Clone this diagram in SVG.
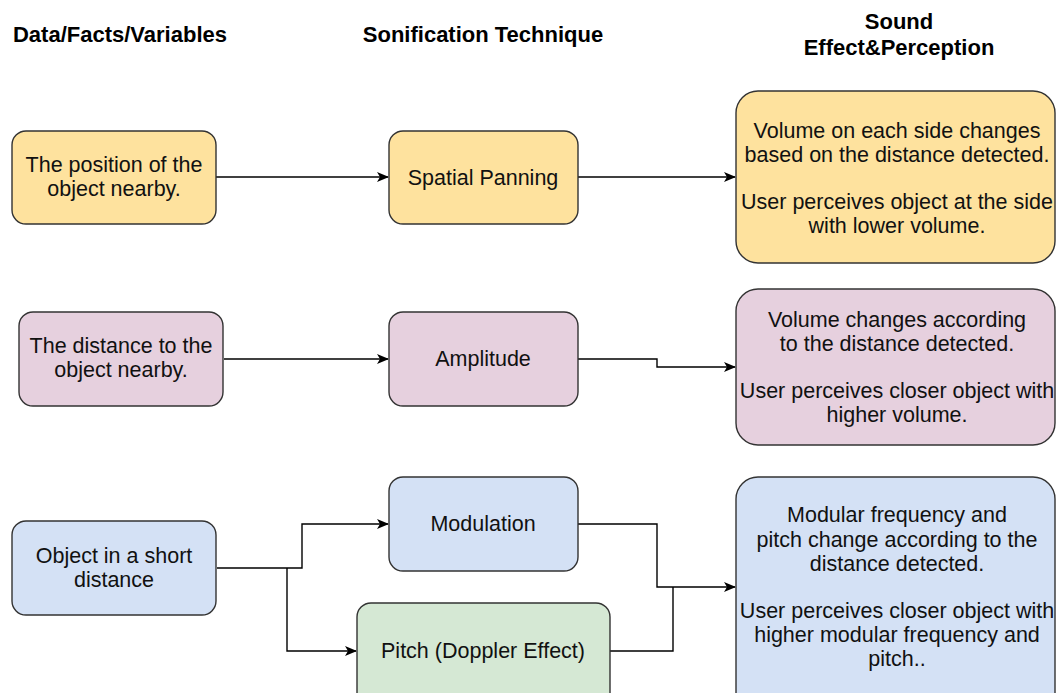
<svg xmlns="http://www.w3.org/2000/svg" width="1057" height="693" viewBox="0 0 1057 693">
  <defs>
    <marker id="arrow" viewBox="0 0 12 10" refX="11" refY="5" markerWidth="12" markerHeight="10" markerUnits="userSpaceOnUse" orient="auto">
      <path d="M0,0 L12,5 L0,10 L3,5 Z" fill="#000"/>
    </marker>
  </defs>
  <style>
    .box { stroke: #333; stroke-width: 1.4; }
    .yellow { fill: #FEE29E; }
    .pink { fill: #E6D0DE; }
    .blue { fill: #D4E1F5; }
    .green { fill: #D5E8D4; }
    .head { font-family: "Liberation Sans", Arial, sans-serif; font-weight: bold; font-size: 22px; fill: #000; text-anchor: middle; }
    .lbl { font-family: "Liberation Sans", Arial, sans-serif; font-size: 21.5px; fill: #111; text-anchor: middle; }
    .edge { fill: none; stroke: #000; stroke-width: 1.4; marker-end: url(#arrow); }
    .line { fill: none; stroke: #000; stroke-width: 1.4; }
  </style>
  <rect width="1057" height="693" fill="#fff"/>

  <!-- column headings -->
  <g id="headings">
    <text class="head" x="120" y="42">Data/Facts/Variables</text>
    <text class="head" x="483" y="42">Sonification Technique</text>
    <text class="head" x="899" y="29">Sound</text>
    <text class="head" x="899" y="55">Effect&amp;Perception</text>
  </g>

  <!-- connectors -->
  <g id="connectors">
    <path class="edge" d="M216,177 H388"/>
    <path class="edge" d="M578,177 H735"/>
    <path class="edge" d="M224,359 H388"/>
    <path class="edge" d="M578,359 H657 V367 H735"/>
    <path class="edge" d="M217,568 H302 V524 H388"/>
    <path class="edge" d="M287,568 V651 H356"/>
    <path class="edge" d="M578,524 H657 V587 H735"/>
    <path class="line" d="M610,651 H673 V587"/>
  </g>

  <!-- row 1: position -->
  <g id="node-position">
    <rect class="box yellow" x="12" y="131" width="204" height="93" rx="14"/>
    <text class="lbl" x="114" y="172">The position of the</text>
    <text class="lbl" x="114" y="196">object nearby.</text>
  </g>
  <g id="node-panning">
    <rect class="box yellow" x="389" y="131" width="189" height="93" rx="14"/>
    <text class="lbl" x="483" y="185">Spatial Panning</text>
  </g>
  <g id="node-panning-effect">
    <rect class="box yellow" x="736" y="91" width="319" height="172" rx="22"/>
    <text class="lbl" x="897" y="138">Volume on each side changes</text>
    <text class="lbl" x="897" y="162">based on the distance detected.</text>
    <text class="lbl" x="897" y="209">User perceives object at the side</text>
    <text class="lbl" x="897" y="233">with lower volume.</text>
  </g>

  <!-- row 2: distance -->
  <g id="node-distance">
    <rect class="box pink" x="19" y="312" width="204" height="94" rx="14"/>
    <text class="lbl" x="121" y="353">The distance to the</text>
    <text class="lbl" x="121" y="377">object nearby.</text>
  </g>
  <g id="node-amplitude">
    <rect class="box pink" x="389" y="312" width="189" height="94" rx="14"/>
    <text class="lbl" x="483" y="366">Amplitude</text>
  </g>
  <g id="node-amplitude-effect">
    <rect class="box pink" x="736" y="289" width="319" height="156" rx="22"/>
    <text class="lbl" x="897" y="327">Volume changes according</text>
    <text class="lbl" x="897" y="351">to the distance detected.</text>
    <text class="lbl" x="897" y="398">User perceives closer object with</text>
    <text class="lbl" x="897" y="422">higher volume.</text>
  </g>

  <!-- row 3: short distance -->
  <g id="node-short">
    <rect class="box blue" x="12" y="521" width="204" height="94" rx="14"/>
    <text class="lbl" x="114" y="563">Object in a short</text>
    <text class="lbl" x="114" y="587">distance</text>
  </g>
  <g id="node-modulation">
    <rect class="box blue" x="389" y="477" width="189" height="94" rx="14"/>
    <text class="lbl" x="483" y="531">Modulation</text>
  </g>
  <g id="node-pitch">
    <rect class="box green" x="357" y="603" width="253" height="110" rx="14"/>
    <text class="lbl" x="483" y="658">Pitch (Doppler Effect)</text>
  </g>
  <g id="node-modulation-effect">
    <rect class="box blue" x="736" y="477" width="319" height="240" rx="22"/>
    <text class="lbl" x="897" y="522">Modular frequency and</text>
    <text class="lbl" x="897" y="547">pitch change according to the</text>
    <text class="lbl" x="897" y="571">distance detected.</text>
    <text class="lbl" x="897" y="618">User perceives closer object with</text>
    <text class="lbl" x="897" y="642">higher modular frequency and</text>
    <text class="lbl" x="897" y="666">pitch..</text>
  </g>
</svg>
